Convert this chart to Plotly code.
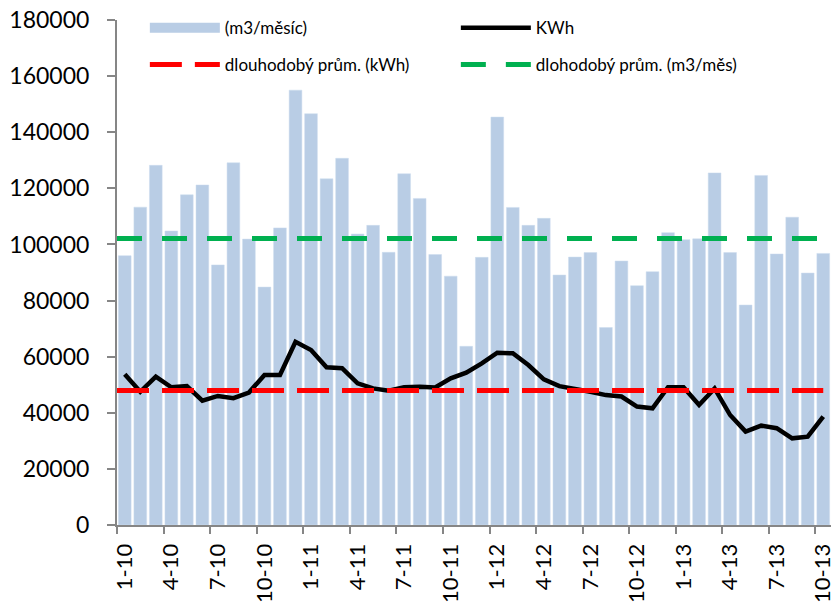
import plotly.graph_objects as go

months = ["1-10","2-10","3-10","4-10","5-10","6-10","7-10","8-10","9-10","10-10","11-10","12-10",
          "1-11","2-11","3-11","4-11","5-11","6-11","7-11","8-11","9-11","10-11","11-11","12-11",
          "1-12","2-12","3-12","4-12","5-12","6-12","7-12","8-12","9-12","10-12","11-12","12-12",
          "1-13","2-13","3-13","4-13","5-13","6-13","7-13","8-13","9-13","10-13"]

gas_m3 = [96000, 113300, 128200, 104800, 117700, 121200, 92700, 129100, 101900, 84800, 105900, 155000,
          146600, 123400, 130700, 103700, 106800, 97200, 125200, 116400, 96400, 88700, 63700, 95400,
          145400, 113200, 106800, 109300, 89100, 95500, 97100, 70400, 94100, 85300, 90300, 104200,
          101700, 102000, 125500, 97100, 78400, 124600, 96600, 109700, 89800, 96800]

kwh = [53700, 47500, 52900, 49100, 49500, 44300, 46000, 45200, 47200, 53500, 53500, 65300,
       62400, 56200, 55900, 50500, 48700, 47900, 49100, 49300, 49000, 52300, 54300, 57600,
       61400, 61200, 57000, 51900, 49500, 48700, 47500, 46300, 45800, 42200, 41600, 49100,
       49100, 42800, 48700, 39200, 33300, 35400, 34500, 30900, 31500, 38600]

avg_kwh = 47900
avg_m3 = 102100

tick_every = 3
y_ticks = [0, 20000, 40000, 60000, 80000, 100000, 120000, 140000, 160000, 180000]

idx = list(range(len(months)))
axis_gray = "#868686"
bar_color = "rgb(185,205,229)"
font_family = "Lato, 'Open Sans', sans-serif"

fig = go.Figure()
fig.add_trace(go.Bar(x=idx, y=gas_m3, name="(m3/měsíc)", showlegend=False,
                     marker=dict(color=bar_color, line=dict(color="rgb(205,220,238)", width=0.5))))
# legend swatch for the bars (wide block as in the original legend)
fig.add_trace(go.Scatter(x=[None], y=[None], name="(m3/měsíc)", mode="lines",
                         line=dict(color=bar_color, width=11), legend="legend"))
fig.add_trace(go.Scatter(x=idx, y=kwh, name="KWh", mode="lines",
                         line=dict(color="black", width=4.5), legend="legend"))
fig.add_trace(go.Scatter(x=[idx[0] - 0.5, idx[-1]], y=[avg_kwh, avg_kwh], name="dlouhodobý prům. (kWh)",
                         mode="lines", line=dict(color="#FF0000", width=5, dash="32px,13px"),
                         legend="legend2"))
fig.add_trace(go.Scatter(x=[idx[0] - 0.5, idx[-1]], y=[avg_m3, avg_m3], name="dlohodobý prům. (m3/měs)",
                         mode="lines", line=dict(color="#00B050", width=5, dash="25px,20px"),
                         legend="legend2"))

legend_common = dict(orientation="h", xanchor="left", yanchor="middle",
                     font=dict(family=font_family, size=17, color="black"),
                     bgcolor="rgba(0,0,0,0)", itemwidth=70, entrywidth=226, entrywidthmode="pixels",
                     itemclick=False, itemdoubleclick=False)

fig.update_layout(
    width=835, height=603,
    margin=dict(l=117, r=4, t=20, b=78),
    paper_bgcolor="white", plot_bgcolor="white",
    font=dict(family=font_family, color="black"),
    bargap=0.18,
    showlegend=True,
    legend=dict(x=0.039, y=0.984, **legend_common),
    legend2=dict(x=0.039, y=0.911, **legend_common),
    xaxis=dict(range=[-0.5, len(months) - 0.5], automargin=False,
               tickmode="array", tickvals=idx[::tick_every], ticktext=months[::tick_every],
               tickangle=-90, ticks="", showline=True, linecolor=axis_gray, linewidth=2,
               showgrid=False, zeroline=False, ticklabelstandoff=8, ticklabeloverflow="allow",
               tickfont=dict(family=font_family, size=22, color="black"),
               minor=dict(tick0=-0.5, dtick=tick_every, ticks="outside", ticklen=7,
                          tickcolor=axis_gray, tickwidth=1.5, showgrid=False)),
    yaxis=dict(range=[0, 180000], automargin=False, tickmode="array", tickvals=y_ticks, tickformat="d",
               ticks="outside", ticklen=8, tickcolor=axis_gray, tickwidth=1.5,
               showline=True, linecolor=axis_gray, linewidth=2, showgrid=False, zeroline=False,
               ticklabelstandoff=13, ticklabeloverflow="allow",
               tickfont=dict(family=font_family, size=23, color="black")),
)

fig.write_html("out.html", config={"displayModeBar": False},
               post_script="document.body.style.margin='0';")
